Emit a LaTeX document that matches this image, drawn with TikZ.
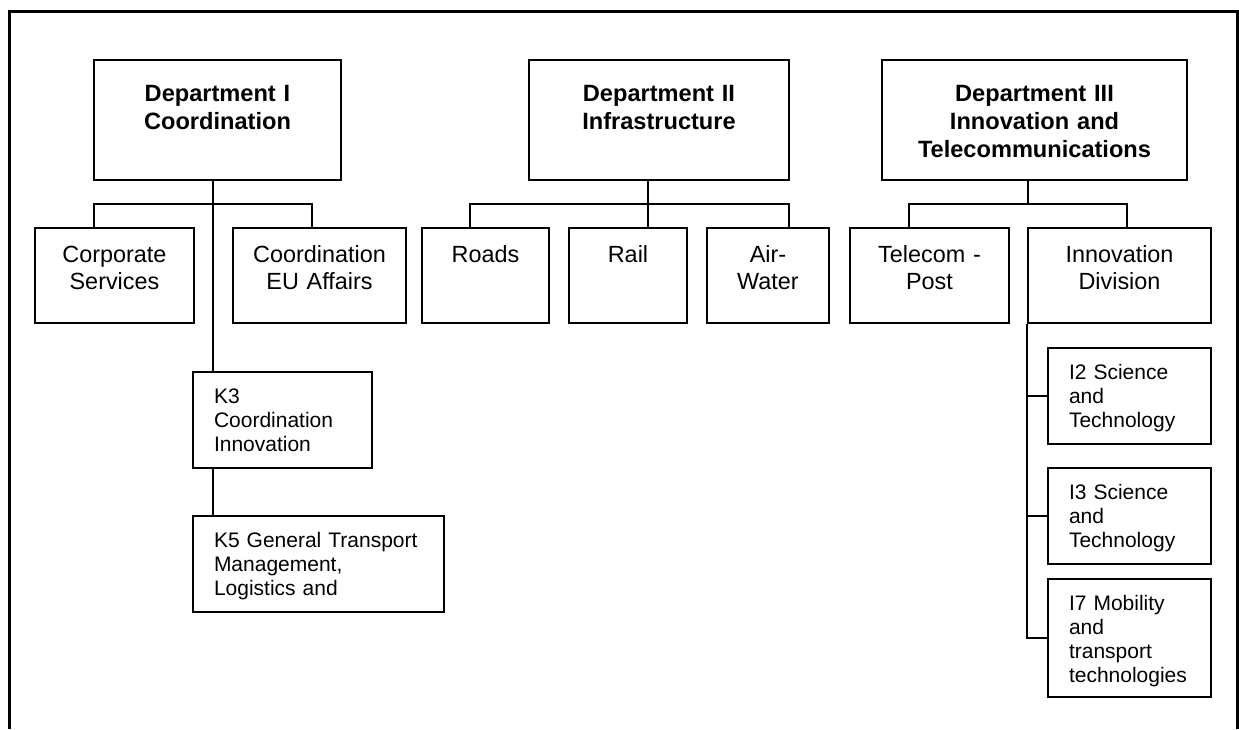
\documentclass[tikz,border=0pt]{standalone}
\usepackage{fontspec}
\setmainfont{Liberation Sans}
\usepackage{tikz}

\begin{document}
\begin{tikzpicture}[x=1pt,y=-1pt,line width=1.8pt,
  box/.style={draw,rectangle,inner ysep=0pt},
  dept/.style={box,inner xsep=4pt,align=center,text height=41pt,text depth=79pt,font=\bfseries\fontsize{23.6}{28}\selectfont},
  unit/.style={box,inner xsep=4pt,align=center,text height=34pt,text depth=61pt,font=\fontsize{23.4}{27.5}\selectfont},
  sub/.style={box,inner xsep=21pt,align=left,text height=31pt,text depth=65pt,font=\fontsize{21}{24.2}\selectfont}]
\useasboundingbox (0,0) rectangle (1239,729);
\draw[line width=3pt] (9.5,729) -- (9.5,11) -- (1237,11) -- (1237,729);
\node[dept,text width=239pt] (d1) at (217.5,120) {Department I\\Coordination};
\node[dept,text width=252pt] (d2) at (659,120) {Department II\\Infrastructure};
\node[dept,text width=297pt] (d3) at (1034.5,120) {Department III\\Innovation and\\Telecommunications};
\node[unit,text width=151pt] (cs) at (114.5,275.5) {Corporate\\Services};
\node[unit,text width=165pt] (eu) at (319.5,275.5) {Coordination\\EU Affairs};
\node[unit,text width=119pt] (roads) at (485.5,275.5) {Roads};
\node[unit,text width=110pt] (rail) at (628,275.5) {Rail};
\node[unit,text width=114pt] (air) at (768,275.5) {Air-\\Water};
\node[unit,text width=151pt] (tel) at (929.5,275.5) {Telecom -\\Post};
\node[unit,text width=175pt] (inno) at (1119.5,275.5) {Innovation\\Division};
\node[sub,text width=137pt] (k3) at (282.5,420) {K3\\Coordination\\Innovation};
\node[sub,text width=209pt] (k5) at (318.5,564) {K5 General Transport\\Management,\\Logistics and};
\node[sub,text width=121pt] (i2) at (1129.5,396) {I2 Science\\and\\Technology};
\node[sub,text width=121pt] (i3) at (1129.5,516) {I3 Science\\and\\Technology};
\node[sub,text width=121pt,text depth=87pt] (i7) at (1129.5,638) {I7 Mobility\\and\\transport\\technologies};
\coordinate (j1) at (213,204);
\coordinate (j1a) at (94,204);
\coordinate (j1b) at (312,204);
\coordinate (j2) at (648,204);
\coordinate (j2a) at (470,204);
\coordinate (j2b) at (789,204);
\coordinate (j3) at (1028,204);
\coordinate (j3a) at (909,204);
\coordinate (j3b) at (1127,204);
\draw (d1.south -| j1) -- (k3.north -| j1);
\draw (cs.north -| j1a) |- (j1b) -- (eu.north -| j1b);
\draw (k3.south -| j1) -- (k5.north -| j1);
\draw (d2.south -| j2) -- (rail.north -| j2);
\draw (roads.north -| j2a) |- (j2b) -- (air.north -| j2b);
\draw (d3.south -| j3) -- (j3);
\draw (tel.north -| j3a) |- (j3b) -- (inno.north -| j3b);
\draw (inno.south west) |- (i7.west);
\draw (i2.west -| inno.south west) -- (i2.west);
\draw (i3.west -| inno.south west) -- (i3.west);
\end{tikzpicture}
\end{document}
